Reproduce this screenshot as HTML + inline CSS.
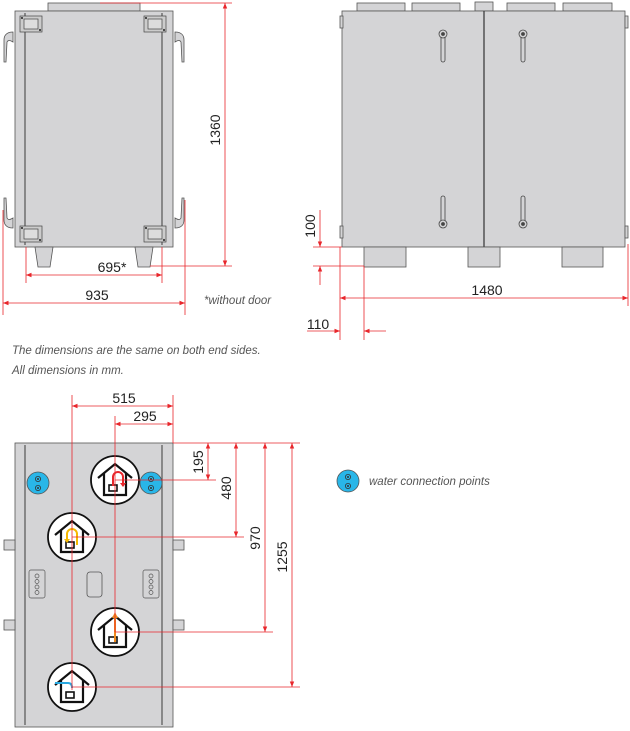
<!DOCTYPE html>
<html><head><meta charset="utf-8"><style>
html,body{margin:0;padding:0;background:#fff;}
svg{display:block;}
text{font-family:"Liberation Sans",sans-serif;}
</style></head><body>
<svg width="630" height="731" viewBox="0 0 630 731" xmlns="http://www.w3.org/2000/svg">
<defs>
<marker id="a" viewBox="0 0 10 10" refX="10" refY="5" markerWidth="7" markerHeight="7" orient="auto-start-reverse"><path d="M0,1 L10,5 L0,9 z" fill="#e8262b"/></marker>
<g id="house" fill="none" stroke="#111" stroke-width="2.2">
<circle r="24" fill="#fff" stroke-width="1.8"/>
<polyline points="-17,-2 0,-16 17,-2"/>
<polyline points="-11,-7 -11,15 11,15 11,-7"/>
<rect x="-6" y="5" width="8" height="6" stroke-width="1.6"/>
</g>
<g id="water"><circle r="11" fill="#29b6e8" stroke="#555" stroke-width="0.8"/><circle cy="-4" r="2.6" fill="none" stroke="#333" stroke-width="0.8"/><circle cy="-4" r="1" fill="#333"/><circle cy="5" r="2.6" fill="none" stroke="#333" stroke-width="0.8"/><circle cy="5" r="1" fill="#333"/></g>
<g id="hinge" fill="#ccc" stroke="#444" stroke-width="0.7"><rect x="0" y="0" width="22" height="16"/><rect x="4" y="3" width="14" height="10" fill="#ddd"/><circle cx="2" cy="2" r="0.8" fill="#333"/><circle cx="20" cy="14" r="0.8" fill="#333"/></g>
<g id="term" fill="#d4d4d6" stroke="#555" stroke-width="0.7"><rect x="0" y="0" width="16" height="28" rx="2"/><circle cx="8" cy="6" r="2" fill="none"/><circle cx="8" cy="11.5" r="2" fill="none"/><circle cx="8" cy="17" r="2" fill="none"/><circle cx="8" cy="22.5" r="2" fill="none"/></g>
</defs>

<!-- LEFT VIEW -->
<g stroke="#555" stroke-width="0.8" fill="#d4d4d6">
<rect x="48" y="3" width="92" height="8"/>
<rect x="15" y="11" width="158" height="236"/>
<line x1="25" y1="13" x2="25" y2="245" stroke-width="1.2"/>
<line x1="162" y1="13" x2="162" y2="245" stroke-width="1.2"/>
<polygon points="35,247 53,247 50,267 38,267"/>
<polygon points="135,247 153,247 150,267 138,267"/>
<path d="M13,32 C6,32 4,36 4,40 L4,62 L6,62 L7,42 C8,40 10,40 13,42 Z"/>
<path d="M175,32 C182,32 184,36 184,40 L184,62 L182,62 L181,42 C180,40 178,40 175,42 Z"/>
<path d="M13,228 C6,228 4,224 4,220 L4,198 L6,198 L7,218 C8,220 10,220 13,218 Z"/>
<path d="M175,228 C182,228 184,224 184,220 L184,198 L182,198 L181,218 C180,220 178,220 175,218 Z"/>
</g>
<use href="#hinge" x="20" y="16"/><use href="#hinge" x="144" y="16"/>
<use href="#hinge" x="20" y="226"/><use href="#hinge" x="144" y="226"/>

<!-- RIGHT VIEW -->
<g stroke="#555" stroke-width="0.8" fill="#d4d4d6">
<rect x="357" y="3" width="48" height="8"/><rect x="412" y="3" width="48" height="8"/>
<rect x="475" y="2" width="18" height="9"/>
<rect x="507" y="3" width="48" height="8"/><rect x="563" y="3" width="49" height="8"/>
<rect x="342" y="11" width="283" height="236"/>
<line x1="484" y1="11" x2="484" y2="247" stroke-width="1.2" stroke="#333"/>
<rect x="364" y="247" width="42" height="20"/><rect x="468" y="247" width="32" height="20"/><rect x="562" y="247" width="41" height="20"/>
<g stroke="#444">
<rect x="441" y="34" width="4" height="28" rx="2"/><rect x="521" y="34" width="4" height="28" rx="2"/>
<rect x="441" y="196" width="4" height="28" rx="2"/><rect x="521" y="196" width="4" height="28" rx="2"/>
<circle cx="443" cy="34" r="4"/><circle cx="523" cy="34" r="4"/><circle cx="443" cy="224" r="4"/><circle cx="523" cy="224" r="4"/>
<circle cx="443" cy="34" r="1.5" fill="#444"/><circle cx="523" cy="34" r="1.5" fill="#444"/><circle cx="443" cy="224" r="1.5" fill="#444"/><circle cx="523" cy="224" r="1.5" fill="#444"/>
</g>
<rect x="340" y="16" width="3" height="12"/><rect x="625" y="16" width="3" height="12"/>
<rect x="340" y="226" width="3" height="12"/><rect x="625" y="226" width="3" height="12"/>
</g>

<!-- BOTTOM VIEW -->
<g stroke="#555" stroke-width="0.8" fill="#d4d4d6">
<rect x="15" y="443" width="158" height="284"/>
<line x1="25" y1="445" x2="25" y2="725" stroke-width="1.2"/>
<line x1="162" y1="445" x2="162" y2="725" stroke-width="1.2"/>
<rect x="4" y="540" width="11" height="10"/><rect x="173" y="540" width="11" height="10"/>
<rect x="4" y="620" width="11" height="10"/><rect x="173" y="620" width="11" height="10"/>
<rect x="87" y="572" width="15" height="25" rx="3"/>
</g>
<use href="#term" x="29" y="570"/><use href="#term" x="143" y="570"/>
<use href="#water" x="38" y="483"/><use href="#water" x="151" y="483"/>
<use href="#house" x="115" y="480"/><use href="#house" x="72" y="537"/>
<use href="#house" x="115" y="632"/><use href="#house" x="72" y="687"/>
<path d="M113,486 L113,477 A5,5 0 0 1 123,477 L123,486" fill="none" stroke="#e8262b" stroke-width="2"/>
<path d="M120,483 L126,483 L123,487 z" fill="#e8262b"/>
<path d="M77,545 L77,534 A5,5 0 0 0 67,534 L67,541" fill="none" stroke="#f5b800" stroke-width="2"/>
<path d="M64,539 L70,539 L67,543 z" fill="#f5b800"/>
<line x1="115" y1="642" x2="115" y2="617" stroke="#f08a1c" stroke-width="2"/>
<path d="M112,618 L118,618 L115,612 z" fill="#f08a1c"/>
<path d="M55,683 L68,683 Q72,683 72,688" fill="none" stroke="#29a8e0" stroke-width="2"/>

<!-- DIMENSIONS -->
<g stroke="#e8262b" stroke-width="0.8" fill="none">
<line x1="100" y1="3" x2="232" y2="3"/><line x1="150" y1="266" x2="232" y2="266"/>
<line x1="225" y1="3" x2="225" y2="266" marker-start="url(#a)" marker-end="url(#a)"/>
<line x1="26" y1="247" x2="26" y2="283"/><line x1="162" y1="247" x2="162" y2="283"/>
<line x1="26" y1="275" x2="162" y2="275" marker-start="url(#a)" marker-end="url(#a)"/>
<line x1="3" y1="210" x2="3" y2="315"/><line x1="185" y1="200" x2="185" y2="315"/>
<line x1="3" y1="303" x2="185" y2="303" marker-start="url(#a)" marker-end="url(#a)"/>

<line x1="313" y1="247" x2="342" y2="247"/><line x1="313" y1="266" x2="364" y2="266"/>
<line x1="320" y1="210" x2="320" y2="247" marker-end="url(#a)"/>
<line x1="320" y1="285" x2="320" y2="266" marker-end="url(#a)"/>
<line x1="340" y1="247" x2="340" y2="340"/><line x1="628" y1="244" x2="628" y2="306"/>
<line x1="340" y1="298" x2="628" y2="298" marker-start="url(#a)" marker-end="url(#a)"/>
<line x1="364" y1="266" x2="364" y2="340"/>
<line x1="307" y1="331" x2="340" y2="331" marker-end="url(#a)"/>
<line x1="386" y1="331" x2="364" y2="331" marker-end="url(#a)"/>

<line x1="72" y1="395" x2="72" y2="690"/><line x1="173" y1="395" x2="173" y2="443"/>
<line x1="72" y1="406" x2="173" y2="406" marker-start="url(#a)" marker-end="url(#a)"/>
<line x1="115" y1="416" x2="115" y2="632"/>
<line x1="115" y1="424" x2="173" y2="424" marker-start="url(#a)" marker-end="url(#a)"/>
<line x1="173" y1="443" x2="300" y2="443"/>
<line x1="115" y1="480" x2="216" y2="480"/><line x1="72" y1="537" x2="244" y2="537"/>
<line x1="115" y1="632" x2="273" y2="632"/><line x1="72" y1="687" x2="300" y2="687"/>
<line x1="208" y1="443" x2="208" y2="480" marker-start="url(#a)" marker-end="url(#a)"/>
<line x1="236" y1="443" x2="236" y2="537" marker-start="url(#a)" marker-end="url(#a)"/>
<line x1="265" y1="443" x2="265" y2="632" marker-start="url(#a)" marker-end="url(#a)"/>
<line x1="292" y1="443" x2="292" y2="687" marker-start="url(#a)" marker-end="url(#a)"/>
</g>

<g fill="#222" font-size="14">
<text x="225" y="130" transform="rotate(-90 225 130)" text-anchor="middle" dy="-5">1360</text>
<text x="112" y="272" text-anchor="middle">695*</text>
<text x="97" y="300" text-anchor="middle">935</text>
<text x="320" y="226" transform="rotate(-90 320 226)" text-anchor="middle" dy="-5">100</text>
<text x="487" y="295" text-anchor="middle">1480</text>
<text x="318" y="329" text-anchor="middle">110</text>
<text x="124" y="403" text-anchor="middle">515</text>
<text x="145" y="421" text-anchor="middle">295</text>
<text x="208" y="462" transform="rotate(-90 208 462)" text-anchor="middle" dy="-5">195</text>
<text x="236" y="488" transform="rotate(-90 236 488)" text-anchor="middle" dy="-5">480</text>
<text x="265" y="538" transform="rotate(-90 265 538)" text-anchor="middle" dy="-5">970</text>
<text x="292" y="557" transform="rotate(-90 292 557)" text-anchor="middle" dy="-5">1255</text>
</g>
<g fill="#555" font-size="11.5" font-style="italic">
<text x="204" y="304">*without door</text>
<text x="12" y="354">The dimensions are the same on both end sides.</text>
<text x="12" y="374">All dimensions in mm.</text>
<text x="369" y="485">water connection points</text>
</g>
<use href="#water" x="348" y="481"/>
</svg>
</body></html>
